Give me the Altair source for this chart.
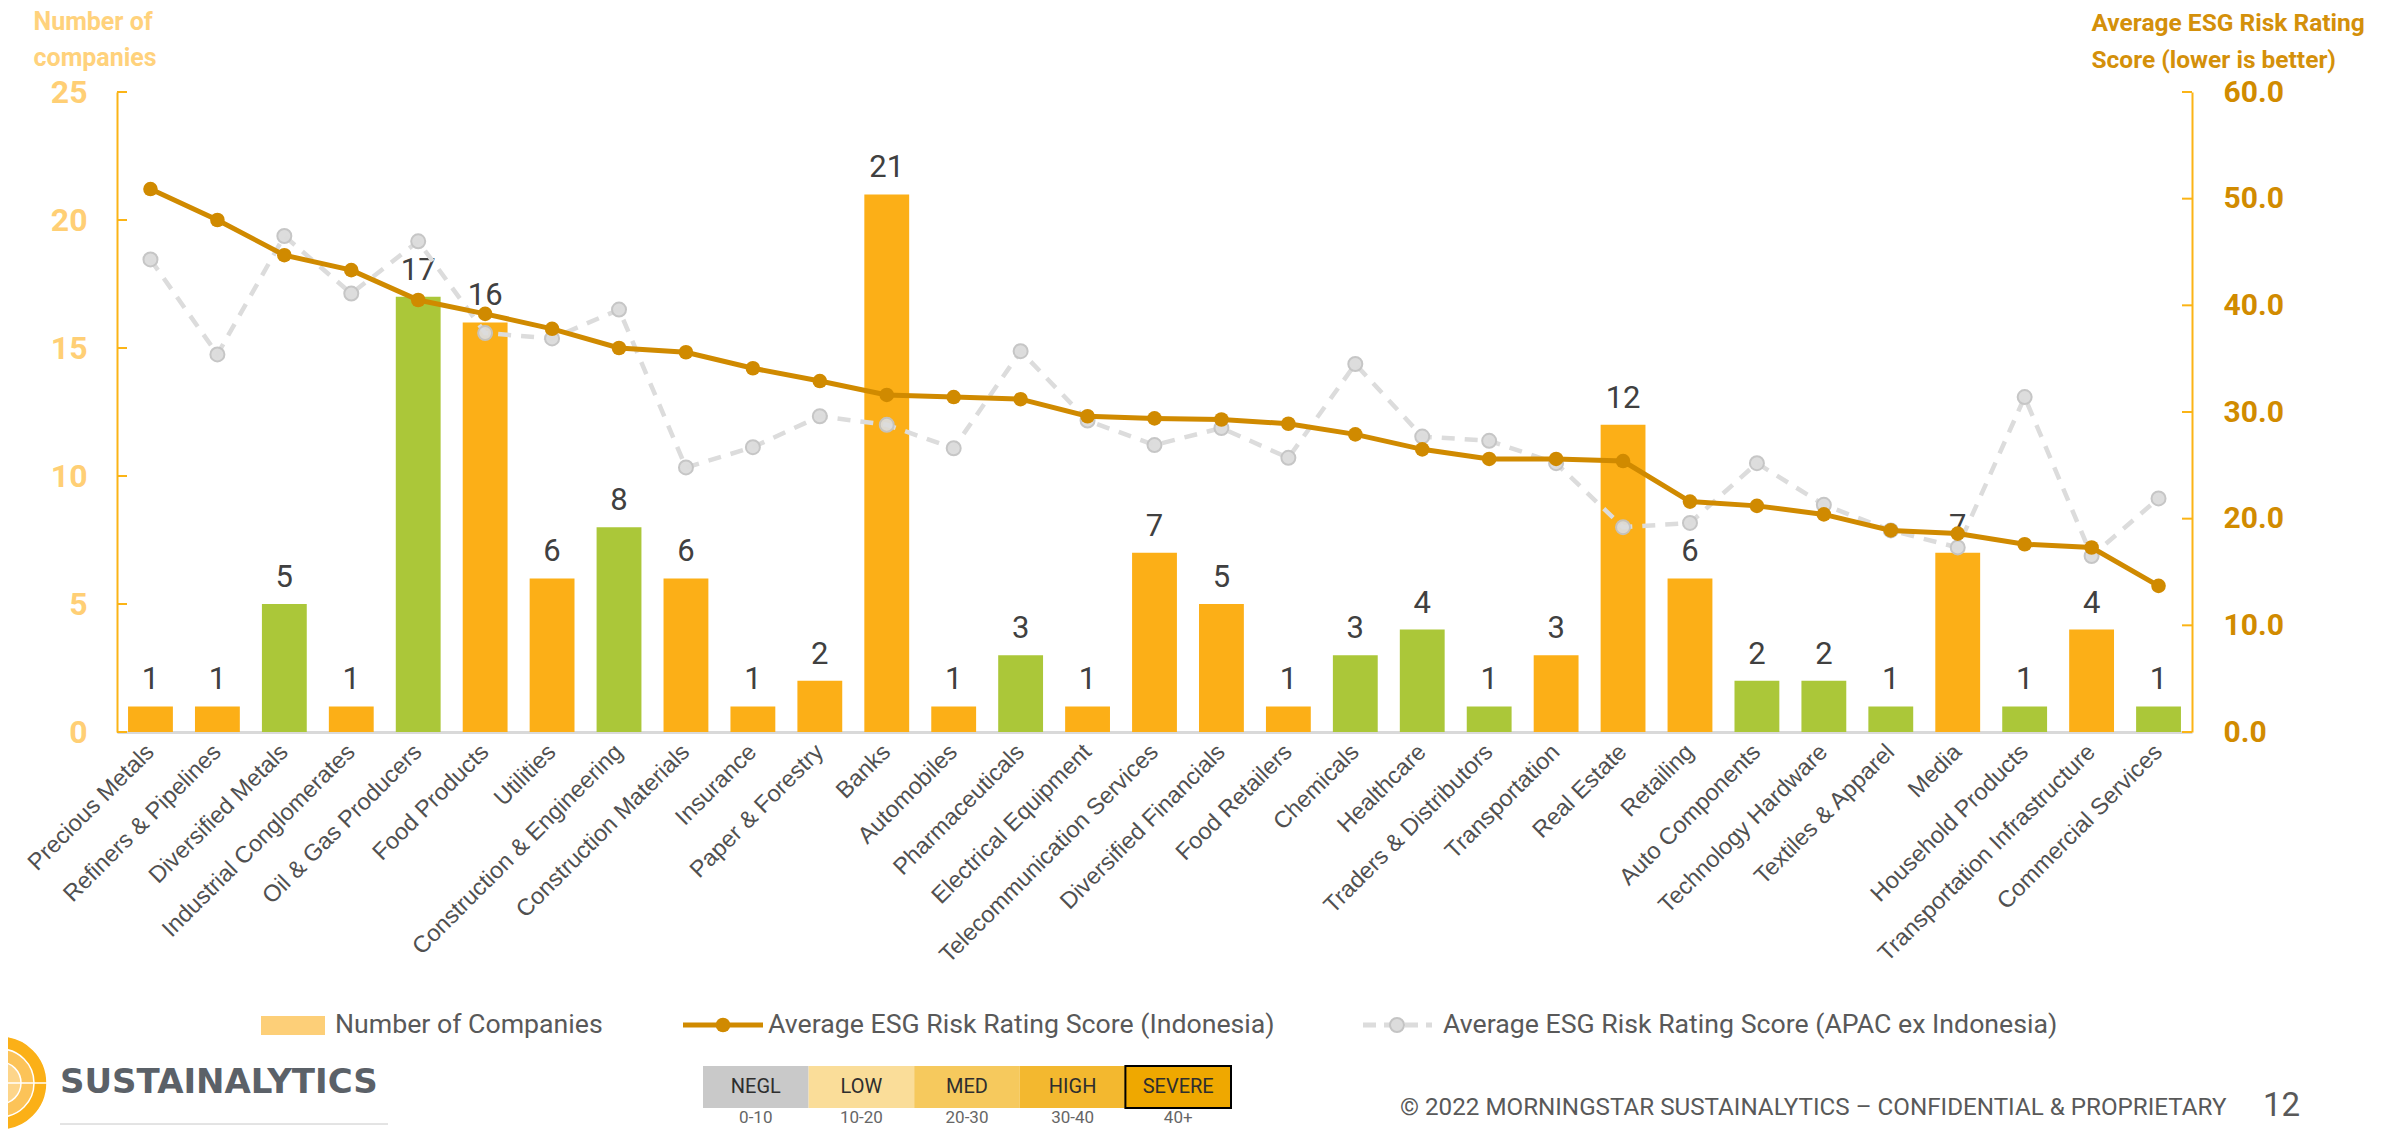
import altair as alt
import pandas as pd

# ---------------- data ----------------
categories = [
    "Precious Metals", "Refiners & Pipelines", "Diversified Metals", "Industrial Conglomerates",
    "Oil & Gas Producers", "Food Products", "Utilities", "Construction & Engineering",
    "Construction Materials", "Insurance", "Paper & Forestry", "Banks", "Automobiles",
    "Pharmaceuticals", "Electrical Equipment", "Telecommunication Services",
    "Diversified Financials", "Food Retailers", "Chemicals", "Healthcare",
    "Traders & Distributors", "Transportation", "Real Estate", "Retailing",
    "Auto Components", "Technology Hardware", "Textiles & Apparel", "Media",
    "Household Products", "Transportation Infrastructure", "Commercial Services",
]
companies = [1, 1, 5, 1, 17, 16, 6, 8, 6, 1, 2, 21, 1, 3, 1, 7, 5, 1, 3, 4, 1, 3, 12, 6, 2, 2, 1, 7, 1, 4, 1]
bar_group = ["o", "o", "g", "o", "g", "o", "o", "g", "o", "o", "o", "o", "o", "g", "o", "o",
             "o", "o", "g", "g", "g", "o", "o", "o", "g", "g", "g", "o", "g", "o", "g"]
indonesia = [50.9, 48.0, 44.7, 43.3, 40.5, 39.2, 37.8, 36.0, 35.6, 34.1, 32.9, 31.6, 31.4,
             31.2, 29.6, 29.4, 29.3, 28.9, 27.9, 26.5, 25.6, 25.6, 25.4, 21.6, 21.2, 20.4,
             18.9, 18.6, 17.6, 17.3, 13.7]
apac = [44.3, 35.4, 46.5, 41.1, 46.0, 37.4, 36.9, 39.6, 24.8, 26.7, 29.6, 28.8, 26.6,
        35.7, 29.2, 26.9, 28.5, 25.7, 34.5, 27.7, 27.3, 25.2, 19.2, 19.6, 25.2, 21.3,
        18.9, 17.3, 31.4, 16.5, 21.9]
left_ticks = [0, 5, 10, 15, 20, 25]
right_ticks = [0, 10, 20, 30, 40, 50, 60]
legend_labels = ["Number of Companies", "Average ESG Risk Rating Score (Indonesia)",
                 "Average ESG Risk Rating Score (APAC ex Indonesia)"]
risk_labels = ["NEGL", "LOW", "MED", "HIGH", "SEVERE"]
risk_ranges = ["0-10", "10-20", "20-30", "30-40", "40+"]
risk_colors = ["#C9C9C9", "#FADD99", "#F6C95D", "#F3B82F", "#EFA800"]

df = pd.DataFrame({"Sector": categories, "Companies": companies, "Group": bar_group,
                   "Indonesia": indonesia, "APAC": apac})
one = pd.DataFrame({"k": [0]})

W, H = 2075, 640
OX, OY = 117, 92          # plot origin on the page
NARROW = "Roboto, sans-serif"

def px(x):
    return x - OX

def py(y):
    return y - OY

def circ(r):
    # vega symbol size is the area of the bounding square
    return 4 * r * r

xenc = alt.X(
    "Sector:N", sort=categories,
    scale=alt.Scale(paddingInner=0.33, paddingOuter=0.165),
    axis=alt.Axis(title=None, labelAngle=-45, labelAlign="right", labelBaseline="middle",
                  labelPadding=16, labelFont="Liberation Sans", labelFontSize=23.5,
                  labelColor="#505050", labelLimit=600, labelOverlap=False, ticks=False,
                  domainColor="#D9D9D9", domainWidth=3),
)

# ---------------- left group: bars ----------------
bars = alt.Chart(df).mark_bar().encode(
    x=xenc,
    y=alt.Y("Companies:Q", scale=alt.Scale(domain=[0, 25], nice=False),
            axis=alt.Axis(values=left_ticks, title=["Number of", "companies"], titleAngle=0,
                          titleAlign="left", titleBaseline="alphabetic", titleX=-84, titleY=-63,
                          titleFont="Roboto", titleFontSize=25, titleFontWeight="bold",
                          titleColor="#FFD27C", titleLineHeight=36,
                          labelFont="Roboto", labelFontSize=32, labelFontWeight="bold",
                          labelColor="#FFCF75", labelPadding=30, ticks=False,
                          domainColor="#FBB416", domainWidth=2, grid=False)),
    color=alt.Color("Group:N", scale=alt.Scale(domain=["o", "g"], range=["#FCAF17", "#ABC739"]),
                    legend=None),
)
bar_labels = alt.Chart(df).mark_text(baseline="bottom", dy=-10, font=NARROW, fontSize=31,
                                     color="#404040").encode(
    x=xenc, y=alt.Y("Companies:Q"), text=alt.Text("Companies:Q"))
left_tick_rules = alt.Chart(pd.DataFrame({"t": left_ticks})).mark_rule(
    color="#FBB416", strokeWidth=2).encode(
    y=alt.Y("t:Q"), x=alt.value(0), x2=alt.value(10))
left_group = alt.layer(bars, bar_labels, left_tick_rules)

# ---------------- right group: lines ----------------
yr = alt.Y("APAC:Q", scale=alt.Scale(domain=[0, 60], nice=False),
           axis=alt.Axis(orient="right", values=right_ticks, format=".1f",
                         title=["Average ESG Risk Rating", "Score (lower is better)"],
                         titleAngle=0, titleAlign="left", titleBaseline="alphabetic",
                         titleX=-101, titleY=-62, titleFont="Roboto", titleFontSize=24.5,
                         titleFontWeight="bold", titleColor="#D4900A", titleLineHeight=37,
                         labelFont="Roboto", labelFontSize=30, labelFontWeight="bold",
                         labelColor="#D18B00", labelPadding=31, ticks=False,
                         domainColor="#FBB416", domainWidth=2, grid=False))
apac_line = alt.Chart(df).mark_line(color="#DCDCDC", strokeWidth=4.5, strokeDash=[13, 10]).encode(
    x=xenc, y=yr)
apac_pts = alt.Chart(df).mark_point(filled=True, fill="#DCDCDC", stroke="#C4C4C4",
                                    strokeWidth=2, size=circ(7), opacity=0.95).encode(
    x=xenc, y=alt.Y("APAC:Q"))
indo_line = alt.Chart(df).mark_line(color="#D08A00", strokeWidth=5).encode(
    x=xenc, y=alt.Y("Indonesia:Q"))
indo_pts = alt.Chart(df).mark_point(filled=True, color="#D08A00", size=circ(7.3), opacity=1).encode(
    x=xenc, y=alt.Y("Indonesia:Q"))
right_tick_rules = alt.Chart(pd.DataFrame({"t": right_ticks})).mark_rule(
    color="#FBB416", strokeWidth=2).encode(
    y=alt.Y("t:Q"), x=alt.value(W - 10), x2=alt.value(W))
right_group = alt.layer(apac_line, apac_pts, indo_line, indo_pts, right_tick_rules)

# ---------------- legend & footer decorations ----------------
decor = []
LY = py(1025)
decor.append(alt.Chart(one).mark_rect(color="#FDCF78").encode(
    x=alt.value(px(261)), x2=alt.value(px(325)), y=alt.value(py(1016)), y2=alt.value(py(1035))))
decor.append(alt.Chart(one).mark_rule(color="#D08A00", strokeWidth=5).encode(
    x=alt.value(px(683)), x2=alt.value(px(763)), y=alt.value(LY)))
decor.append(alt.Chart(one).mark_point(filled=True, color="#D08A00", size=circ(7.3), opacity=1).encode(
    x=alt.value(px(723)), y=alt.value(LY)))
decor.append(alt.Chart(one).mark_rule(color="#DCDCDC", strokeWidth=5, strokeDash=[13, 8]).encode(
    x=alt.value(px(1363)), x2=alt.value(px(1432)), y=alt.value(LY)))
decor.append(alt.Chart(one).mark_point(filled=True, fill="#DCDCDC", stroke="#C4C4C4", strokeWidth=2,
                                       size=circ(7), opacity=1).encode(
    x=alt.value(px(1397)), y=alt.value(LY)))
for lx, lab in zip([335, 768, 1443], legend_labels):
    decor.append(alt.Chart(one).mark_text(text=lab, align="left", baseline="middle", font=NARROW,
                                          fontSize=26.7, color="#595959").encode(
        x=alt.value(px(lx)), y=alt.value(LY)))

# logo
for r, c in [(47, "#FBB017"), (34, "#FCC358"), (21, "#FDD58A")]:
    decor.append(alt.Chart(one).mark_point(filled=True, fill=c, stroke="white", strokeWidth=1.5,
                                           size=circ(r), opacity=1).encode(
        x=alt.value(px(0)), y=alt.value(py(1083))))
decor.append(alt.Chart(one).mark_rule(color="white", strokeWidth=1.5).encode(
    x=alt.value(px(8)), x2=alt.value(px(47)), y=alt.value(py(1083))))
decor.append(alt.Chart(one).mark_text(text="SUSTAINALYTICS", align="left", baseline="alphabetic",
                                      font="DejaVu Sans", fontWeight="bold", fontSize=34,
                                      color="#5B6168").encode(
    x=alt.value(px(60)), y=alt.value(py(1093))))
decor.append(alt.Chart(one).mark_rule(color="#C8C8C8", strokeWidth=1).encode(
    x=alt.value(px(60)), x2=alt.value(px(388)), y=alt.value(py(1124))))

# risk scale
bx0, bw = 703, 105.6
for i, (lab, rng, col) in enumerate(zip(risk_labels, risk_ranges, risk_colors)):
    x0 = bx0 + i * bw
    sev = lab == "SEVERE"
    decor.append(alt.Chart(one).mark_rect(color=col, stroke="#000000" if sev else col,
                                          strokeWidth=2 if sev else 0).encode(
        x=alt.value(px(x0)), x2=alt.value(px(x0 + bw)), y=alt.value(py(1066)), y2=alt.value(py(1108))))
    decor.append(alt.Chart(one).mark_text(text=lab, align="center", baseline="middle", font=NARROW,
                                          fontSize=20, color="#2E2E2E").encode(
        x=alt.value(px(x0 + bw / 2)), y=alt.value(py(1087))))
    decor.append(alt.Chart(one).mark_text(text=rng, align="center", baseline="middle", font=NARROW,
                                          fontSize=17, color="#666666").encode(
        x=alt.value(px(x0 + bw / 2)), y=alt.value(py(1118))))

decor.append(alt.Chart(one).mark_text(
    text="\u00a9 2022 MORNINGSTAR SUSTAINALYTICS \u2013 CONFIDENTIAL & PROPRIETARY",
    align="left", baseline="middle", font=NARROW, fontSize=24.2, color="#595959").encode(
    x=alt.value(px(1400)), y=alt.value(py(1108))))
decor.append(alt.Chart(one).mark_text(text="12", align="left", baseline="middle", font=NARROW,
                                      fontSize=33, color="#595959").encode(
    x=alt.value(px(2263)), y=alt.value(py(1106))))

chart = alt.layer(left_group, right_group, *decor).resolve_scale(y="independent").properties(
    width=W, height=H, autosize="none",
    padding={"left": OX - 8, "top": OY - 8, "right": 2391 - (OX - 8) - W, "bottom": 397},
).configure_view(stroke=None)

chart.save("out.html", embed_options={"renderer": "svg", "actions": False})
